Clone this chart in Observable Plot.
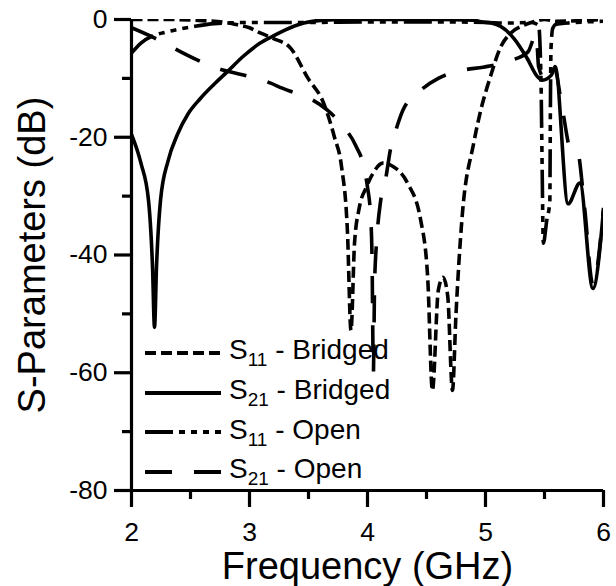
<!DOCTYPE html>
<html>
<head>
<meta charset="utf-8">
<script src="https://cdn.jsdelivr.net/npm/d3@7"></script>
<script src="https://cdn.jsdelivr.net/npm/@observablehq/plot@0.6"></script>
<style>
  html, body { margin: 0; padding: 0; background: #fff; }
  #wrap { position: relative; width: 616px; height: 586px; font-family: "Liberation Sans", Arial, sans-serif; color: #000; }
  #legend { position: absolute; left: 145px; top: 333px; }
  .row { display: flex; align-items: center; height: 39.7px; }
  .row svg { display: block; }
  .lbl { font-size: 28px; line-height: 30px; margin-left: 8px; position: relative; top: -1px; white-space: nowrap; }
  .lbl .sub { font-size: 19px; position: relative; top: 7px; }
</style>
</head>
<body>
<div id="wrap"></div>
<script>
// ---- axis definitions ----
const xDomain = [2, 6];
const yDomain = [-80, 0];
const xMajorTicks = [2, 3, 4, 5, 6];
const xMinorTicks = [2.5, 3.5, 4.5, 5.5];
const yMajorTicks = [-80, -60, -40, -20, 0];
const yMinorTicks = [-70, -50, -30, -10];
const xTitle = "Frequency (GHz)";
const yTitle = "S-Parameters (dB)";

// ---- series: S11 - Bridged ----
const s11BridgedF  = [2.0, 2.3, 2.6, 2.8, 2.9, 3.0, 3.07, 3.2, 3.35, 3.49, 3.63, 3.72, 3.78, 3.83, 3.86, 3.89, 3.93, 3.99, 4.05, 4.13, 4.22, 4.34, 4.45, 4.51, 4.55, 4.6, 4.64, 4.68, 4.72, 4.75, 4.8, 4.9, 4.96, 5.04, 5.13, 5.22, 5.32, 5.42, 5.5, 5.6, 5.8, 6.0];
const s11BridgedDb = [0, 0, -0.2, -0.5, -0.9, -1.4, -2.1, -3.2, -4.9, -9.8, -14.3, -20, -25, -36, -52.8, -38, -32, -28.5, -26, -24.4, -25, -27.8, -34, -43.8, -63, -46, -43.8, -47, -63, -50, -34, -21, -15.4, -9.8, -4.6, -2.2, -1, -0.3, 0, -0.3, -0.2, 0];

// ---- series: S21 - Bridged ----
const s21BridgedF  = [2.0, 2.08, 2.144, 2.178, 2.195, 2.212, 2.246, 2.31, 2.39, 2.48, 2.58, 2.7, 2.81, 2.95, 3.09, 3.2, 3.3, 3.46, 3.63, 3.8, 4.2, 4.6, 4.9, 4.96, 5.05, 5.13, 5.24, 5.35, 5.44, 5.48, 5.56, 5.59, 5.7, 5.8, 5.91, 6.0];
const s21BridgedDb = [-19.5, -24.4, -30.7, -42, -52.3, -42, -30.7, -24, -19.5, -16, -13.5, -11, -8.9, -6.2, -4, -2.8, -1.8, -0.6, -0.1, 0, 0, 0, -0.1, -0.4, -0.6, -1.2, -3.2, -6.5, -9.7, -10.3, -9.4, -8, -31.3, -27.8, -45.7, -32.4];

// ---- series: S11 - Open ----
const s11OpenF  = [2.0, 2.08, 2.18, 2.3, 2.5, 2.7, 3.0, 3.5, 4.0, 4.5, 5.0, 5.2, 5.38, 5.45, 5.47, 5.48, 5.49, 5.52, 5.545, 5.55, 5.555, 5.57, 5.6, 5.7, 6.0];
const s11OpenDb = [-5.7, -4, -2.8, -2.1, -1.3, -0.7, -0.5, -0.5, -0.4, -0.4, -0.5, -0.6, -0.5, -1, -10, -25, -38, -34, -31, -15, -5, -1.5, -0.8, -0.6, -0.3];

// ---- series: S21 - Open ----
const s21OpenF  = [2.0, 2.18, 2.36, 2.56, 2.73, 2.94, 3.11, 3.32, 3.49, 3.66, 3.8, 3.9, 3.98, 4.0, 4.025, 4.038, 4.05, 4.06, 4.08, 4.11, 4.15, 4.2, 4.24, 4.3, 4.47, 4.6, 4.81, 4.98, 5.21, 5.36, 5.43, 5.45, 5.5, 5.58, 5.65, 5.72, 5.78, 5.84, 5.91, 6.0];
const s21OpenDb = [-1.4, -3, -4.9, -6.9, -8.3, -9.4, -10.3, -12, -13.2, -15.4, -18.3, -21.4, -26, -28.5, -33, -40, -60, -45, -37, -31, -27.5, -21.5, -18.8, -15.4, -11.7, -10, -8.6, -8.1, -7, -5.5, -2.5, -8, -10, -8, -15, -22, -22.5, -32, -45, -32];

// ---- series registry ----
const seriesSymbol = ["S", "S", "S", "S"];
const seriesSub    = ["11", "21", "11", "21"];
const seriesSuffix = [" - Bridged", " - Bridged", " - Open", " - Open"];
const seriesF      = [s11BridgedF, s21BridgedF, s11OpenF, s21OpenF];
const seriesDb     = [s11BridgedDb, s21BridgedDb, s11OpenDb, s21OpenDb];
const seriesDash   = ["11,5", null, "28,6,6,6,6,6,6,6", "27,22"];

const tables = seriesF.map((fs, i) => fs.map((f, j) => ({f, db: seriesDb[i][j]})));

const font = "'Liberation Sans', Arial, sans-serif";
const fmt = d => String(d);

const chart = Plot.plot({
  width: 616,
  height: 586,
  marginLeft: 131,
  marginRight: 13,
  marginTop: 19,
  marginBottom: 96,
  style: {fontFamily: font, color: "#000", background: "#fff", overflow: "visible"},
  x: {domain: xDomain},
  y: {domain: yDomain},
  marks: [
    ...tables.map((t, i) => Plot.line(t, {
      x: "f", y: "db", stroke: "#000", strokeWidth: 3.6,
      strokeDasharray: seriesDash[i] || undefined,
      strokeLinecap: "butt", strokeLinejoin: "round",
      curve: "monotone-x", clip: true
    })),
    Plot.ruleX([xDomain[0]], {strokeWidth: 3.2}),
    Plot.ruleY([yDomain[0]], {strokeWidth: 3.2}),
    Plot.axisX(xMajorTicks, {tickSize: 17, tickPadding: 15, strokeWidth: 3.2, fontSize: 26.5, tickFormat: fmt, label: null}),
    Plot.axisX(xMinorTicks, {tickSize: 9, strokeWidth: 3.2, tickFormat: () => "", label: null}),
    Plot.axisX([], {label: xTitle, labelAnchor: "center", labelArrow: "none", labelOffset: 88, fontSize: 38, dx: -10}),
    Plot.axisY(yMajorTicks, {tickSize: 17, tickPadding: 7, strokeWidth: 3.2, fontSize: 26.5, tickFormat: fmt, label: null}),
    Plot.axisY(yMinorTicks, {tickSize: 9, strokeWidth: 3.2, tickFormat: () => "", label: null}),
    Plot.axisY([], {label: yTitle, labelAnchor: "center", labelArrow: "none", labelOffset: 113, fontSize: 38})
  ]
});

const wrap = document.getElementById("wrap");
wrap.appendChild(chart);

// ---- legend (inside plot, lower-left) ----
const legend = document.createElement("div");
legend.id = "legend";
seriesSymbol.forEach((s, i) => {
  const row = document.createElement("div");
  row.className = "row";
  const svg = d3.create("svg").attr("width", 76).attr("height", 8);
  svg.append("line").attr("x1", 0).attr("x2", 76).attr("y1", 4).attr("y2", 4)
    .attr("stroke", "#000").attr("stroke-width", 4)
    .attr("stroke-dasharray", seriesDash[i] || null);
  row.appendChild(svg.node());
  const lbl = document.createElement("span");
  lbl.className = "lbl";
  lbl.innerHTML = s + '<span class="sub">' + seriesSub[i] + '</span>' + seriesSuffix[i];
  row.appendChild(lbl);
  legend.appendChild(row);
});
wrap.appendChild(legend);
</script>
</body>
</html>
